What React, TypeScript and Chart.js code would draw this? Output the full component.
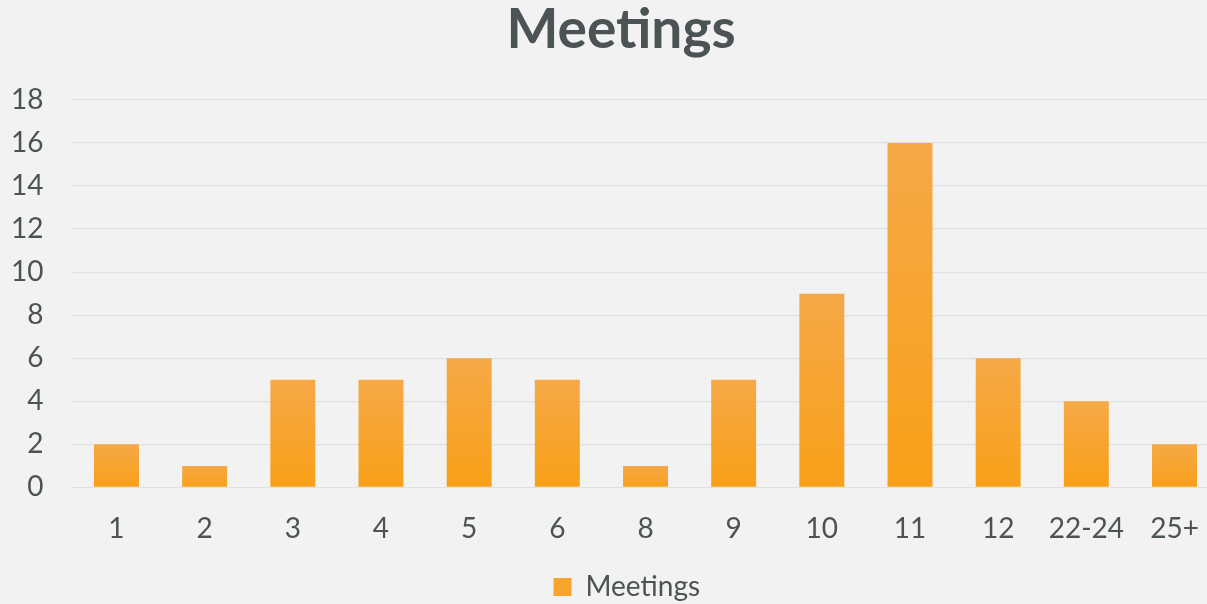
import React, { useEffect, useRef } from "react";
import { Chart, registerables } from "chart.js";

Chart.register(...registerables);

const categories = ["1", "2", "3", "4", "5", "6", "8", "9", "10", "11", "12", "22-24", "25+"];
const meetings = [2, 1, 5, 5, 6, 5, 1, 5, 9, 16, 6, 4, 2];
const yTicks = [0, 2, 4, 6, 8, 10, 12, 14, 16, 18];

const TEXT = "#4b5354";
const FONT = "Lato, 'Open Sans', sans-serif";

export default function App() {
  const ref = useRef<HTMLCanvasElement | null>(null);
  useEffect(() => {
    if (!ref.current) return;
    const bg = {
      id: "bg",
      beforeDraw(c: any) {
        const ctx = c.ctx;
        ctx.save();
        ctx.fillStyle = "#f2f2f2";
        ctx.fillRect(0, 0, c.width, c.height);
        ctx.restore();
      },
    };
    // Centre title and legend over the whole (uncropped) chart area like the original
    const shiftBlocks = {
      id: "shiftBlocks",
      afterLayout(c: any) {
        if (c.titleBlock) c.titleBlock.right += 23.4;
        if (c.legend) c.legend.right += 35;
      },
    };
    const chart = new Chart(ref.current, {
      type: "bar",
      data: {
        labels: categories,
        datasets: [
          {
            label: "Meetings",
            data: meetings,
            backgroundColor: (context: any) => {
              const c = context.chart;
              const y = c.scales?.y;
              if (context.type !== "data" || !y) return "#f7a42a";
              const top = y.getPixelForValue(context.parsed?.y ?? 0);
              const base = y.getPixelForValue(0);
              if (!isFinite(top) || !isFinite(base) || top === base) return "#f7a42a";
              const g = c.ctx.createLinearGradient(0, top, 0, base);
              g.addColorStop(0, "#f5a947");
              g.addColorStop(1, "#f9a018");
              return g;
            },
            borderWidth: 0,
            categoryPercentage: 1,
            barPercentage: 0.51,
          },
        ],
      },
      options: {
        responsive: false,
        animation: false,
        layout: { padding: { left: 0, right: 23.4, top: 0, bottom: -7 } },
        plugins: {
          title: {
            display: true,
            text: "Meetings",
            color: TEXT,
            font: { family: FONT, size: 55, weight: "bold", lineHeight: 1.1 },
            padding: { top: 0, bottom: 39.5 },
          },
          legend: {
            display: true,
            position: "bottom",
            labels: {
              color: TEXT,
              font: { family: FONT, size: 28 },
              boxWidth: 18,
              boxHeight: 18,
              padding: 3,
              generateLabels: () => [
                {
                  text: "Meetings",
                  fillStyle: "#f7a42a",
                  strokeStyle: "#f7a42a",
                  lineWidth: 0,
                  hidden: false,
                  datasetIndex: 0,
                  fontColor: TEXT,
                } as any,
              ],
            },
          },
          tooltip: { enabled: false },
        },
        scales: {
          x: {
            grid: { display: false, drawTicks: false },
            border: { display: false },
            afterFit: (s: any) => {
              s.height = 82.6;
            },
            ticks: {
              color: TEXT,
              font: { family: FONT, size: 28 },
              padding: 25,
              maxRotation: 0,
              autoSkip: false,
            },
          },
          y: {
            min: 0,
            max: 18,
            afterBuildTicks: (s: any) => {
              s.ticks = yTicks.map((v) => ({ value: v }));
            },
            afterFit: (s: any) => {
              s.width = 72.4;
            },
            grid: { color: "#dde1e1", lineWidth: 1.3, drawTicks: false },
            border: { display: false },
            ticks: {
              color: TEXT,
              font: { family: FONT, size: 28 },
              padding: 29,
            },
          },
        },
      },
      plugins: [bg, shiftBlocks],
    } as any);
    return () => chart.destroy();
  }, []);
  return (
    <div
      style={{
        position: "fixed",
        left: 0,
        top: 0,
        width: 1207,
        height: 604,
        overflow: "hidden",
        background: "#f2f2f2",
      }}
    >
      <canvas ref={ref} width={1242} height={604} style={{ display: "block" }} />
    </div>
  );
}
